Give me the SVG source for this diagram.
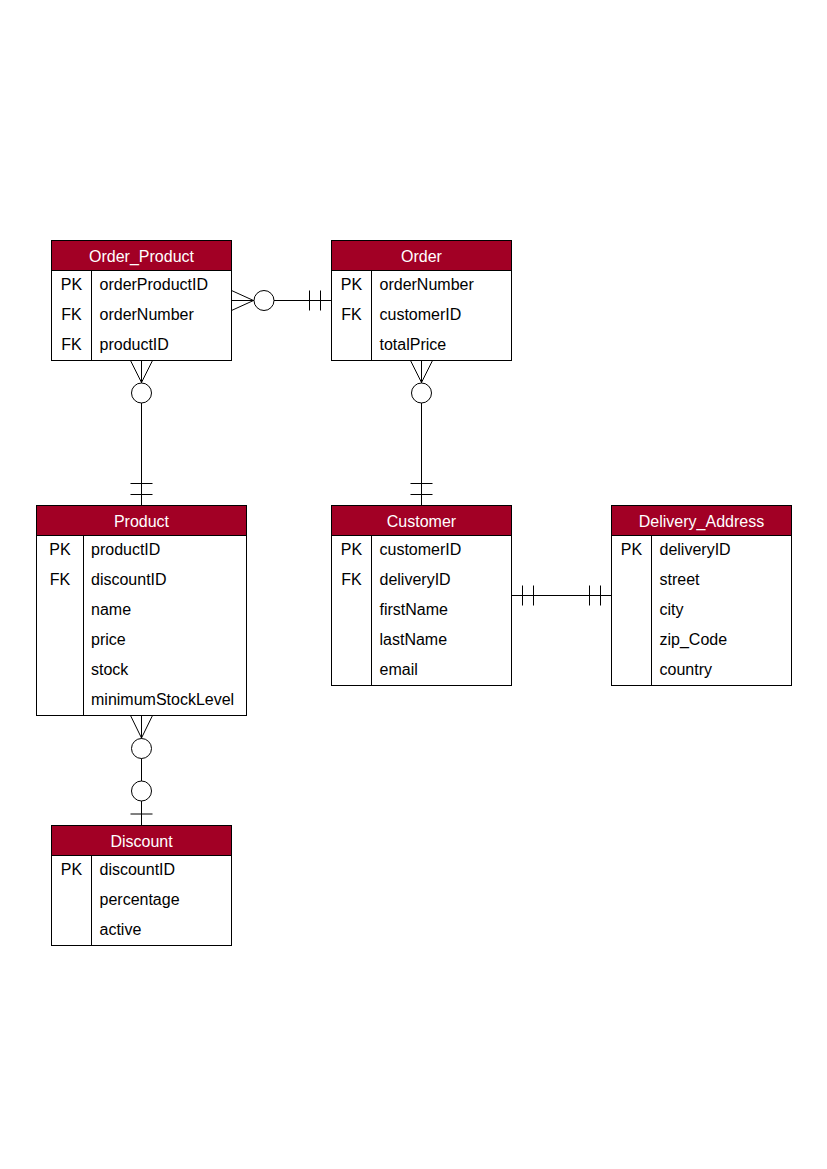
<svg xmlns="http://www.w3.org/2000/svg" width="827" height="1169" viewBox="0 0 827 1169">
  <style>
    .box { fill: #ffffff; stroke: #000000; stroke-width: 1; }
    .head { fill: #A20025; stroke: #000000; stroke-width: 1; }
    .sep { stroke: #000000; stroke-width: 1; fill: none; }
    .title { font-family: "Liberation Sans", Helvetica, Arial, sans-serif; font-size: 16px; fill: #ffffff; text-anchor: middle; }
    .key { font-family: "Liberation Sans", Helvetica, Arial, sans-serif; font-size: 16px; fill: #000000; text-anchor: middle; }
    .field { font-family: "Liberation Sans", Helvetica, Arial, sans-serif; font-size: 16px; fill: #000000; }
    .edge { stroke: #000000; stroke-width: 1; fill: none; }
    .ring { stroke: #000000; stroke-width: 1; fill: #ffffff; }
  </style>
  <rect width="827" height="1169" fill="#ffffff"/>

  <!-- relationship lines -->
  <g id="connectors">
    <!-- Order_Product (many, optional) to Order (exactly one) -->
    <g id="op-order">
      <line class="edge" x1="231.5" y1="300.5" x2="331.5" y2="300.5"/>
      <polyline class="edge" points="231.5,290.5 253.5,300.5 231.5,310.5"/>
      <circle class="ring" cx="264" cy="300.5" r="10"/>
      <line class="edge" x1="309.5" y1="290.5" x2="309.5" y2="310.5"/>
      <line class="edge" x1="320.5" y1="290.5" x2="320.5" y2="310.5"/>
    </g>
    <!-- Order_Product (many, optional) to Product (exactly one) -->
    <g id="op-product">
      <line class="edge" x1="141.5" y1="360.5" x2="141.5" y2="505.5"/>
      <polyline class="edge" points="130.5,360.5 141.5,382.5 152.5,360.5"/>
      <circle class="ring" cx="141.5" cy="393" r="10"/>
      <line class="edge" x1="130.5" y1="483.5" x2="152.5" y2="483.5"/>
      <line class="edge" x1="130.5" y1="494.5" x2="152.5" y2="494.5"/>
    </g>
    <!-- Order (many, optional) to Customer (exactly one) -->
    <g id="order-customer">
      <line class="edge" x1="421.5" y1="360.5" x2="421.5" y2="505.5"/>
      <polyline class="edge" points="410.5,360.5 421.5,382.5 432.5,360.5"/>
      <circle class="ring" cx="421.5" cy="393" r="10"/>
      <line class="edge" x1="410.5" y1="483.5" x2="432.5" y2="483.5"/>
      <line class="edge" x1="410.5" y1="494.5" x2="432.5" y2="494.5"/>
    </g>
    <!-- Customer (exactly one) to Delivery_Address (exactly one) -->
    <g id="customer-delivery">
      <line class="edge" x1="511.5" y1="595.5" x2="611.5" y2="595.5"/>
      <line class="edge" x1="522.5" y1="585.5" x2="522.5" y2="605.5"/>
      <line class="edge" x1="533.5" y1="585.5" x2="533.5" y2="605.5"/>
      <line class="edge" x1="589.5" y1="585.5" x2="589.5" y2="605.5"/>
      <line class="edge" x1="600.5" y1="585.5" x2="600.5" y2="605.5"/>
    </g>
    <!-- Product (many, optional) to Discount (zero or one) -->
    <g id="product-discount">
      <line class="edge" x1="141.5" y1="715.5" x2="141.5" y2="825.5"/>
      <polyline class="edge" points="130.5,715.5 141.5,738 152.5,715.5"/>
      <circle class="ring" cx="141.5" cy="748.5" r="10"/>
      <circle class="ring" cx="141.5" cy="791" r="10"/>
      <line class="edge" x1="130.5" y1="814" x2="152.5" y2="814"/>
    </g>
  </g>

  <!-- Order_Product table -->
  <g id="order_product">
    <rect class="box" x="51.5" y="240.5" width="180" height="120"/>
    <rect class="head" x="51.5" y="240.5" width="180" height="30"/>
    <line class="sep" x1="91.5" y1="270.5" x2="91.5" y2="360.5"/>
    <text class="title" x="141.5" y="261.5">Order_Product</text>
    <text class="key" x="71.5" y="289.5">PK</text>
    <text class="key" x="71.5" y="319.5">FK</text>
    <text class="key" x="71.5" y="349.5">FK</text>
    <text class="field" x="99.5" y="289.5">orderProductID</text>
    <text class="field" x="99.5" y="319.5">orderNumber</text>
    <text class="field" x="99.5" y="349.5">productID</text>
  </g>

  <!-- Order table -->
  <g id="order">
    <rect class="box" x="331.5" y="240.5" width="180" height="120"/>
    <rect class="head" x="331.5" y="240.5" width="180" height="30"/>
    <line class="sep" x1="371.5" y1="270.5" x2="371.5" y2="360.5"/>
    <text class="title" x="421.5" y="261.5">Order</text>
    <text class="key" x="351.5" y="289.5">PK</text>
    <text class="key" x="351.5" y="319.5">FK</text>
    <text class="field" x="379.5" y="289.5">orderNumber</text>
    <text class="field" x="379.5" y="319.5">customerID</text>
    <text class="field" x="379.5" y="349.5">totalPrice</text>
  </g>

  <!-- Product table -->
  <g id="product">
    <rect class="box" x="36.5" y="505.5" width="210" height="210"/>
    <rect class="head" x="36.5" y="505.5" width="210" height="30"/>
    <line class="sep" x1="83.5" y1="535.5" x2="83.5" y2="715.5"/>
    <text class="title" x="141.5" y="526.5">Product</text>
    <text class="key" x="60" y="554.5">PK</text>
    <text class="key" x="60" y="584.5">FK</text>
    <text class="field" x="91" y="554.5">productID</text>
    <text class="field" x="91" y="584.5">discountID</text>
    <text class="field" x="91" y="614.5">name</text>
    <text class="field" x="91" y="644.5">price</text>
    <text class="field" x="91" y="674.5">stock</text>
    <text class="field" x="91" y="704.5">minimumStockLevel</text>
  </g>

  <!-- Customer table -->
  <g id="customer">
    <rect class="box" x="331.5" y="505.5" width="180" height="180"/>
    <rect class="head" x="331.5" y="505.5" width="180" height="30"/>
    <line class="sep" x1="371.5" y1="535.5" x2="371.5" y2="685.5"/>
    <text class="title" x="421.5" y="526.5">Customer</text>
    <text class="key" x="351.5" y="554.5">PK</text>
    <text class="key" x="351.5" y="584.5">FK</text>
    <text class="field" x="379.5" y="554.5">customerID</text>
    <text class="field" x="379.5" y="584.5">deliveryID</text>
    <text class="field" x="379.5" y="614.5">firstName</text>
    <text class="field" x="379.5" y="644.5">lastName</text>
    <text class="field" x="379.5" y="674.5">email</text>
  </g>

  <!-- Delivery_Address table -->
  <g id="delivery_address">
    <rect class="box" x="611.5" y="505.5" width="180" height="180"/>
    <rect class="head" x="611.5" y="505.5" width="180" height="30"/>
    <line class="sep" x1="651.5" y1="535.5" x2="651.5" y2="685.5"/>
    <text class="title" x="701.5" y="526.5">Delivery_Address</text>
    <text class="key" x="631.5" y="554.5">PK</text>
    <text class="field" x="659.5" y="554.5">deliveryID</text>
    <text class="field" x="659.5" y="584.5">street</text>
    <text class="field" x="659.5" y="614.5">city</text>
    <text class="field" x="659.5" y="644.5">zip_Code</text>
    <text class="field" x="659.5" y="674.5">country</text>
  </g>

  <!-- Discount table -->
  <g id="discount">
    <rect class="box" x="51.5" y="825.5" width="180" height="120"/>
    <rect class="head" x="51.5" y="825.5" width="180" height="30"/>
    <line class="sep" x1="91.5" y1="855.5" x2="91.5" y2="945.5"/>
    <text class="title" x="141.5" y="846.5">Discount</text>
    <text class="key" x="71.5" y="874.5">PK</text>
    <text class="field" x="99.5" y="874.5">discountID</text>
    <text class="field" x="99.5" y="904.5">percentage</text>
    <text class="field" x="99.5" y="934.5">active</text>
  </g>
</svg>
